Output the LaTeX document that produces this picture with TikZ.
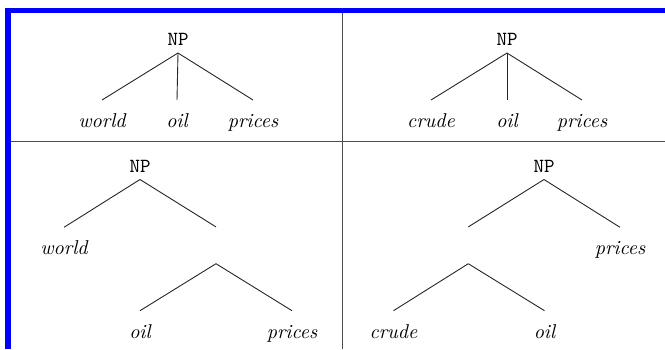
\documentclass[tikz,border=0pt]{standalone}
\usepackage{tikz}
\usetikzlibrary{positioning}
\begin{document}
\begin{tikzpicture}[x=0.5pt,y=-0.5pt,line join=round,font=\normalsize,
  cat/.style={font=\ttfamily,anchor=south,inner xsep=0pt,inner ysep=3.5pt},
  word/.style={font=\itshape,anchor=north,inner xsep=0pt,inner ysep=6.5pt,text height=7pt,text depth=2pt},
  gap/.style={inner sep=0pt,minimum height=18pt,minimum width=0pt},
  branch/.style={draw=black!85,line width=0.45pt},
  rule/.style={draw=black!70,line width=0.5pt}]
\useasboundingbox (0,0) rectangle (665,349);
% frame and panels
\fill[blue] (5,7.5) rectangle (665,13);
\fill[blue] (5,7.5) rectangle (11,349);
\draw[rule] (342.5,13) -- (342.5,349);
\draw[rule] (11,141.5) -- (665,141.5);
% top left: flat NP
\node[cat] (npA) at (178,53) {NP};
\node[word] (a1) at (102,100) {world};
\node[word] (a2) at (177,100) {oil};
\node[word] (a3) at (253,100) {prices};
\draw[branch] (npA.south) -- (a1.north); \draw[branch] (npA.south) -- (a2.north); \draw[branch] (npA.south) -- (a3.north);
% top right: flat NP
\node[cat] (npB) at (507,53) {NP};
\node[word] (b1) at (431,100) {crude};
\node[word] (b2) at (507,100) {oil};
\node[word] (b3) at (582,100) {prices};
\draw[branch] (npB.south) -- (b1.north); \draw[branch] (npB.south) -- (b2.north); \draw[branch] (npB.south) -- (b3.north);
% bottom left: right branching
\node[cat] (npC) at (140,179.5) {NP};
\node[word] (c1) at (64,227.3) {world};
\node[gap] (c2) at (216,245.3) {};
\node[word] (c3) at (140,310.7) {oil};
\node[word] (c4) at (292,310.7) {prices};
\draw[branch] (npC.south) -- (c1.north); \draw[branch] (npC.south) -- (c2.north);
\draw[branch] (c2.south) -- (c3.north); \draw[branch] (c2.south) -- (c4.north);
% bottom right: left branching
\node[cat] (npD) at (544,179.5) {NP};
\node[gap] (d1) at (468.3,245.3) {};
\node[word] (d2) at (620,227.3) {prices};
\node[word] (d3) at (393.5,310.7) {crude};
\node[word] (d4) at (544.5,310.7) {oil};
\draw[branch] (npD.south) -- (d1.north); \draw[branch] (npD.south) -- (d2.north);
\draw[branch] (d1.south) -- (d3.north); \draw[branch] (d1.south) -- (d4.north);
\end{tikzpicture}
\end{document}
